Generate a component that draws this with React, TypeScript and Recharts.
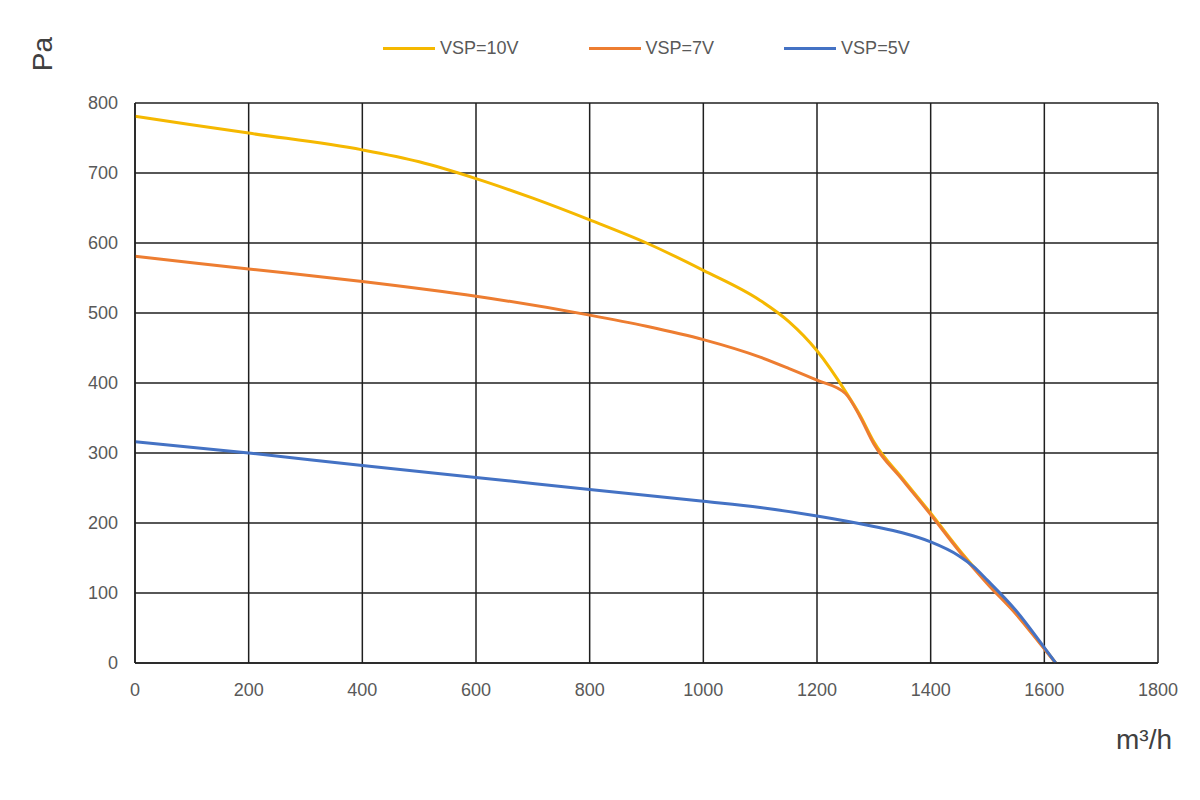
import React from 'react';
import { LineChart, Line, XAxis, YAxis, CartesianGrid } from 'recharts';

// flow in m³/h, pressure in Pa
const flowTicks = [0, 200, 400, 600, 800, 1000, 1200, 1400, 1600, 1800];
const pressureTicks = [0, 100, 200, 300, 400, 500, 600, 700, 800];

const vsp10Flow = [0, 200, 400, 500, 600, 700, 800, 900, 1000, 1100, 1150, 1200, 1250, 1275, 1300, 1350, 1400, 1450, 1500, 1550, 1600, 1620];
const vsp10Pa = [781, 757, 733, 716, 692, 664, 633, 600, 561, 518, 488, 446, 388, 355, 316, 264, 214, 162, 115, 71, 21, 0];

const vsp7Flow = [0, 200, 400, 600, 800, 900, 1000, 1100, 1150, 1200, 1250, 1275, 1300, 1350, 1400, 1450, 1500, 1550, 1600, 1620];
const vsp7Pa = [581, 563, 545, 524, 497, 481, 462, 437, 421, 404, 385, 353, 313, 262, 212, 160, 113, 70, 20, 0];

const vsp5Flow = [0, 200, 400, 600, 800, 1000, 1100, 1200, 1300, 1350, 1400, 1450, 1475, 1500, 1550, 1600, 1620];
const vsp5Pa = [316, 300, 282, 265, 248, 231, 222, 210, 195, 186, 173, 153, 138, 118, 75, 22, 0];

const toRows = (xs: number[], ys: number[]) => xs.map((q, i) => ({ q, p: ys[i] }));

const series = [
  { name: 'VSP=10V', color: '#F5B800', data: toRows(vsp10Flow, vsp10Pa) },
  { name: 'VSP=7V', color: '#ED7D31', data: toRows(vsp7Flow, vsp7Pa) },
  { name: 'VSP=5V', color: '#4472C4', data: toRows(vsp5Flow, vsp5Pa) },
];

const font = '"Liberation Sans", Arial, sans-serif';
const tickStyle = { fontSize: 18, fill: '#595959', fontFamily: font };

const LegendRow = () => (
  <div style={{ display: 'flex', alignItems: 'center', fontFamily: font, fontSize: 18, color: '#595959' }}>
    {series.map(s => (
      <div key={s.name} style={{ display: 'flex', alignItems: 'center', marginRight: 70 }}>
        <span style={{ display: 'inline-block', width: 52, height: 3, background: s.color, marginRight: 5 }} />
        <span>{s.name}</span>
      </div>
    ))}
  </div>
);

export default function App() {
  return (
    <div style={{ position: 'absolute', left: 0, top: 0, width: 1200, height: 800, background: '#fff' }}>
      <LineChart width={1200} height={800} margin={{ top: 103, right: 42, bottom: 107, left: 75 }}>
        <CartesianGrid stroke="#1f1f1f" strokeWidth={1.5} />
        <XAxis
          type="number"
          dataKey="q"
          domain={[0, 1800]}
          ticks={flowTicks}
          height={30}
          tick={tickStyle}
          tickLine={false}
          tickSize={0}
          tickMargin={20}
          axisLine={{ stroke: '#1f1f1f', strokeWidth: 1.5 }}
          allowDuplicatedCategory={false}
        />
        <YAxis
          type="number"
          domain={[0, 800]}
          ticks={pressureTicks}
          width={60}
          tick={tickStyle}
          tickLine={false}
          tickSize={0}
          tickMargin={17}
          axisLine={{ stroke: '#1f1f1f', strokeWidth: 1.5 }}
        />
        {series.map(s => (
          <Line
            key={s.name}
            name={s.name}
            data={s.data}
            dataKey="p"
            type="monotone"
            stroke={s.color}
            strokeWidth={3}
            dot={false}
            activeDot={false}
            isAnimationActive={false}
          />
        ))}
      </LineChart>
      <div style={{ position: 'absolute', left: 383, top: 38 }}>
        <LegendRow />
      </div>
      <div
        style={{
          position: 'absolute', left: 43, top: 54, transform: 'translate(-50%, -50%) rotate(-90deg)',
          fontFamily: font, fontSize: 28, color: '#404040', whiteSpace: 'nowrap',
        }}
      >
        Pa
      </div>
      <div
        style={{
          position: 'absolute', left: 1144, top: 740, transform: 'translate(-50%, -50%)',
          fontFamily: font, fontSize: 28, color: '#404040', whiteSpace: 'nowrap',
        }}
      >
        m³/h
      </div>
    </div>
  );
}
